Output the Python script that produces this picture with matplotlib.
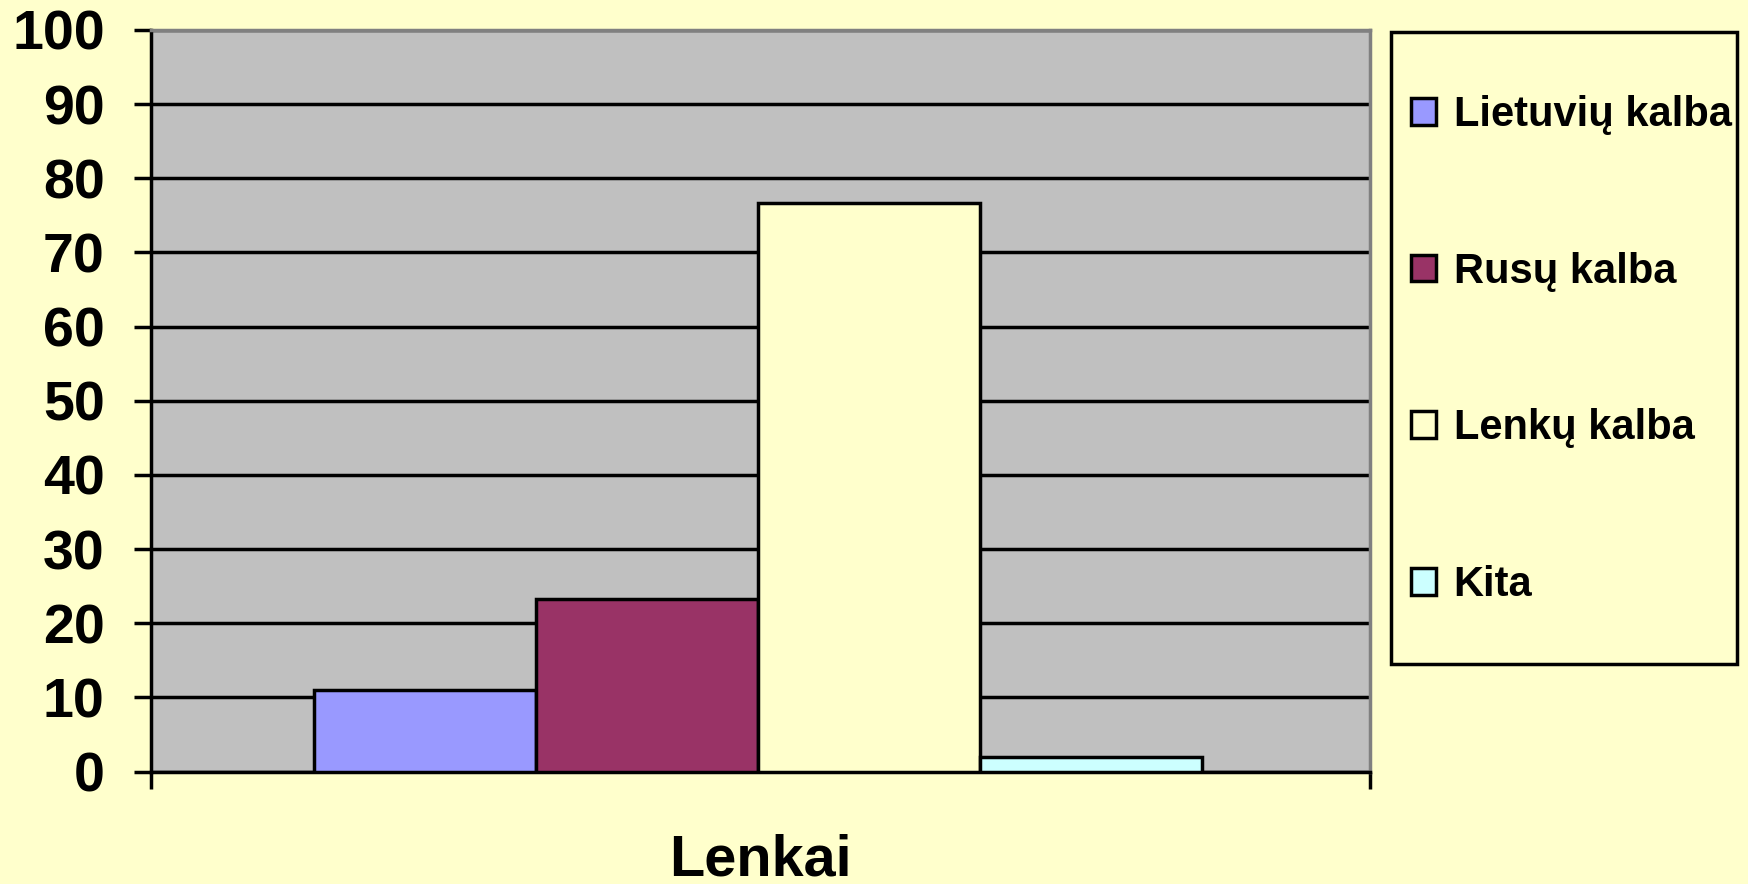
import matplotlib
matplotlib.use("Agg")
import matplotlib.pyplot as plt
from matplotlib.patches import Rectangle, Patch
import numpy as np

# data
category = "Lenkai"
series = ["Lietuvių kalba", "Rusų kalba", "Lenkų kalba", "Kita"]
values = [11.0, 23.3, 76.7, 1.9]
colors = ["#9999FF", "#993366", "#FFFFCC", "#CCFFFF"]
yticks = [0, 10, 20, 30, 40, 50, 60, 70, 80, 90, 100]

plt.rcParams['font.family'] = ['Liberation Sans', 'DejaVu Sans']
plt.rcParams['font.weight'] = 'bold'

W, H, DPI = 1748, 884, 100
fig = plt.figure(figsize=(W / DPI, H / DPI), dpi=DPI, facecolor="#FFFFCC")

# plot area in pixels
left, right, top, bottom = 150.5, 1370, 30, 771.5
ax = fig.add_axes([left / W, 1 - bottom / H, (right - left) / W, (bottom - top) / H])
ax.set_facecolor("#C0C0C0")

lw = 2.5
bar_w = 0.182
start = -0.366
for i, (name, v, c) in enumerate(zip(series, values, colors)):
    ax.bar(start + bar_w * (i + 0.5), v, width=bar_w, color=c,
           edgecolor="black", linewidth=lw, zorder=3, label=name)

ax.set_xlim(-0.5, 0.5)
ax.set_ylim(0, 100)
ax.set_yticks(yticks)
ax.set_yticklabels([str(t) for t in yticks], fontsize=40, fontweight="bold")
ax.yaxis.grid(True, color="black", linewidth=lw, zorder=1)
ax.set_axisbelow(True)
ax.tick_params(axis="y", length=12, width=lw, pad=21, direction="out")

ax.set_xticks([-0.5, 0.5])
ax.set_xticklabels(["", ""])
ax.tick_params(axis="x", length=12, width=lw, direction="out")
ax.set_xlabel(category, fontsize=41.5, fontweight="bold", labelpad=29)

for s in ["left", "bottom"]:
    ax.spines[s].set_color("black")
    ax.spines[s].set_linewidth(lw)
for s in ["top", "right"]:
    ax.spines[s].set_color("#808080")
    ax.spines[s].set_linewidth(lw)

# legend box
lx0, lx1, ly0, ly1 = 1391, 1737, 32, 664
fig.patches.append(Rectangle((lx0 / W, 1 - ly1 / H), (lx1 - lx0) / W, (ly1 - ly0) / H,
                             transform=fig.transFigure, facecolor="none",
                             edgecolor="black", linewidth=lw))
handles = [Patch(facecolor=c, edgecolor="black", linewidth=lw) for c in colors]
leg = fig.legend(handles, series, loc="upper left",
                 bbox_to_anchor=((lx0 + 20) / W, 1 - 95 / H),
                 frameon=False, prop={"weight": "bold", "size": 30},
                 handlelength=0.6, handleheight=0.6, handletextpad=0.42,
                 labelspacing=2.8, borderpad=0, borderaxespad=0)

fig.savefig("out.png", dpi=DPI, facecolor=fig.get_facecolor())
